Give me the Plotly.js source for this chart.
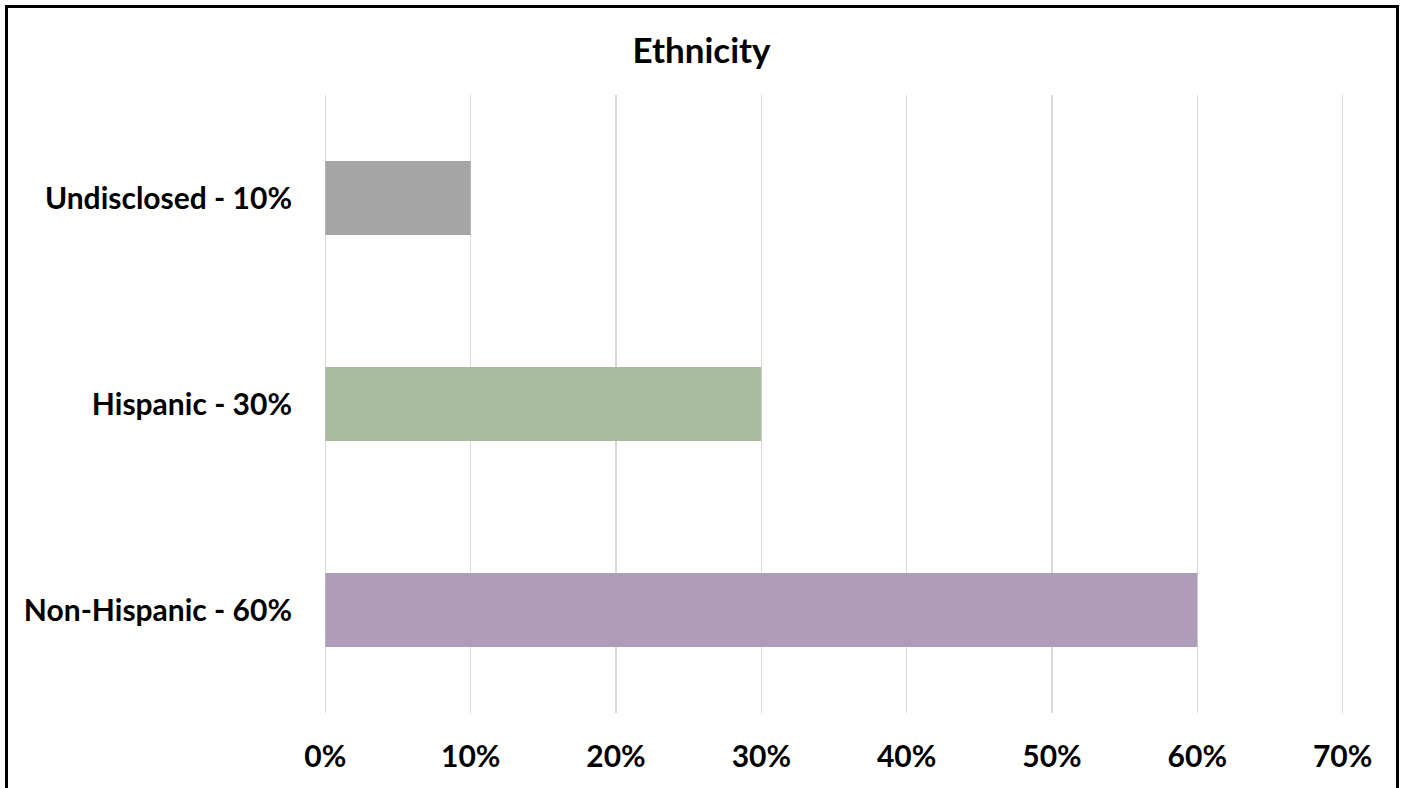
<!DOCTYPE html>
<html>
<head>
<meta charset="utf-8">
<script src="https://cdn.plot.ly/plotly-3.0.1.min.js"></script>
<style>
html,body{margin:0;padding:0;overflow:hidden;background:#fff;}
#wrap{position:relative;width:1403px;height:788px;overflow:hidden;}
#chart{position:absolute;left:0;top:0;width:1403px;height:788px;}
#frame{position:absolute;left:5px;top:5px;width:1388px;height:820px;border:3px solid #000;pointer-events:none;}
</style>
</head>
<body>
<div id="wrap"><div id="chart"></div><div id="frame"></div></div>
<script>
const categories = ["Non-Hispanic - 60%", "Hispanic - 30%", "Undisclosed - 10%"];
const values = [0.60, 0.30, 0.10];
const barColors = ["#AF9CBB", "#A9BB9F", "#A5A5A5"];
const tickValues = [0, 0.1, 0.2, 0.3, 0.4, 0.5, 0.6, 0.7];
const tickLabels = ["0%", "10%", "20%", "30%", "40%", "50%", "60%", "70%"];
const chartTitle = "Ethnicity";

const font = "Lato, 'Open Sans', sans-serif";

Plotly.newPlot("chart", [{
  type: "bar",
  orientation: "h",
  y: categories,
  x: values,
  width: 0.36,
  marker: {color: barColors},
  hoverinfo: "none"
}], {
  width: 1403, height: 788,
  margin: {l: 320.6, r: 55.6, t: 94.5, b: 75, pad: 0},
  paper_bgcolor: "#fff", plot_bgcolor: "#fff",
  showlegend: false,
  title: {text: chartTitle, font: {family: font, size: 35, color: "#000", weight: "bold"},
          x: 0.5, xref: "container", xanchor: "center", y: 0.936, yref: "container", yanchor: "middle", automargin: false},
  xaxis: {
    range: [-0.003, 0.703], tickvals: tickValues, ticktext: tickLabels,
    showgrid: true, gridcolor: "#D9D9D9", gridwidth: 1.3, zeroline: false,
    showline: false, ticks: "", ticklabelstandoff: 23,
    tickfont: {family: font, size: 30, color: "#000", weight: "bold"},
    fixedrange: true
  },
  yaxis: {
    range: [-0.5, 2.5], showgrid: false, zeroline: false, showline: false,
    ticks: "", ticklabelstandoff: 28,
    tickfont: {family: font, size: 30, color: "#000", weight: "bold"},
    fixedrange: true
  }
}, {displayModeBar: false, staticPlot: true});
</script>
</body>
</html>
